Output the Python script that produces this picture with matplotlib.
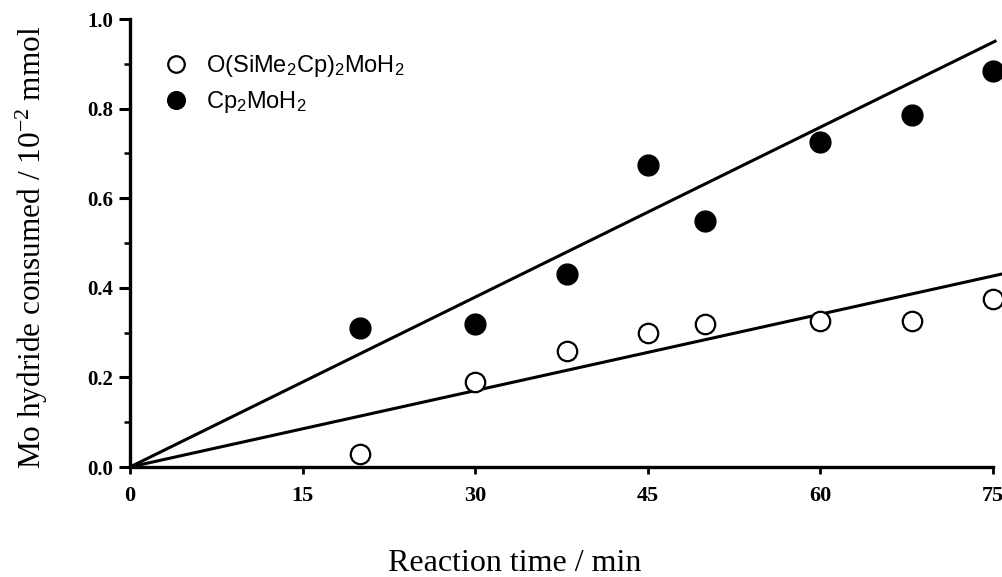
import matplotlib
matplotlib.use('Agg')
import matplotlib.pyplot as plt
import numpy as np

plt.rcParams['mathtext.fontset'] = 'custom'
plt.rcParams['mathtext.rm'] = 'Liberation Serif'
plt.rcParams['mathtext.it'] = 'Liberation Serif:italic'
plt.rcParams['mathtext.bf'] = 'Liberation Serif:bold'
plt.rcParams['mathtext.sf'] = 'Liberation Sans'

# reaction time (min) and Mo hydride consumed (10^-2 mmol)
t = [20, 30, 38, 45, 50, 60, 68, 75]
y_open = [0.03, 0.19, 0.26, 0.30, 0.32, 0.325, 0.325, 0.375]   # O(SiMe2Cp)2MoH2
y_fill = [0.31, 0.32, 0.43, 0.675, 0.55, 0.725, 0.785, 0.885]  # Cp2MoH2

# straight lines through the origin, as drawn
fit_open_x = [0, 75.8]
fit_open_y = [0, 0.431]
fit_fill_x = [0, 75.3]
fit_fill_y = [0, 0.952]

xticks = [0, 15, 30, 45, 60, 75]
yticks = [0.0, 0.2, 0.4, 0.6, 0.8, 1.0]

fig = plt.figure(figsize=(10.02, 5.77), dpi=100)
ax = fig.add_axes([0.1297, 0.1906, 0.8613, 0.7764])

ax.plot(fit_fill_x, fit_fill_y, c='black', lw=2.2, clip_on=False, solid_capstyle='butt')
ax.plot(fit_open_x, fit_open_y, c='black', lw=2.2, clip_on=False, solid_capstyle='butt')
ax.plot(t, y_open, 'o', ms=14, mfc='white', mec='black', mew=1.6, clip_on=False,
        label=r'O(SiMe$_\mathsf{2}$Cp)$_\mathsf{2}$MoH$_\mathsf{2}$', zorder=3)
ax.plot(t, y_fill, 'o', ms=15, mfc='black', mec='black', clip_on=False,
        label=r'Cp$_\mathsf{2}$MoH$_\mathsf{2}$', zorder=3)

ax.set_xlim(0, 75)
ax.set_ylim(0, 1.0)
ax.set_xticks(xticks, [str(v) for v in xticks], fontfamily='Liberation Serif',
              fontweight='bold', fontsize=16)
ax.set_yticks(yticks, ['%.1f' % v for v in yticks], fontfamily='Liberation Serif',
              fontweight='bold', fontsize=15)
ax.set_yticks(np.arange(0.1, 1.0, 0.2), minor=True)

for s in ['top', 'right']:
    ax.spines[s].set_visible(False)
for s in ['left', 'bottom']:
    ax.spines[s].set_linewidth(2.4)

ax.tick_params(axis='y', which='major', direction='out', length=8, width=2.2, pad=4)
ax.tick_params(axis='y', which='minor', direction='out', length=4, width=1.8)
ax.tick_params(axis='x', which='major', direction='out', length=5, width=2, pad=9)

ax.set_xlabel('Reaction time / min', family='Liberation Serif', fontsize=23)
ax.xaxis.set_label_coords(0.446, -0.182)
ax.set_ylabel(r'Mo hydride consumed / 10$^{-2}$ mmol', family='Liberation Serif', fontsize=22.5)
ax.yaxis.set_label_coords(-0.093, 0.49)

leg = ax.legend(loc='upper left', bbox_to_anchor=(0.01, 0.955), frameon=False,
                prop={'family': 'Liberation Sans', 'size': 17}, handletextpad=0.25,
                labelspacing=0.42, markerscale=0.85, borderaxespad=0.2)

plt.savefig('out.png', dpi=100)
